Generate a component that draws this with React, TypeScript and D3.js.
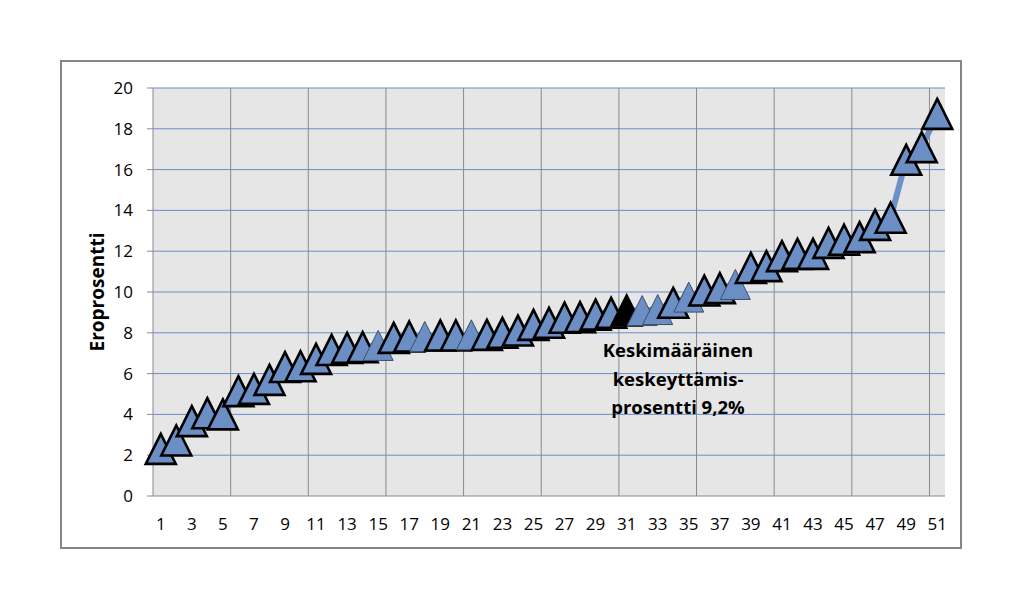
import React from "react";
import * as d3 from "d3";

const categories: number[] = d3.range(1, 52);
const values: number[] = [
  2.31, 2.72, 3.67, 4.06, 4.0, 5.14, 5.25, 5.69, 6.32, 6.36,
  6.72, 7.16, 7.26, 7.3, 7.38, 7.75, 7.82, 7.82, 7.87, 7.87,
  7.9, 7.9, 8.0, 8.11, 8.39, 8.49, 8.74, 8.77, 8.89, 8.98,
  9.09, 9.09, 9.14, 9.47, 9.75, 10.07, 10.19, 10.37, 11.18, 11.27,
  11.76, 11.87, 11.87, 12.41, 12.56, 12.69, 13.29, 13.64, 16.48, 17.1,
  18.73,
];
const thinOutline: number[] = [15, 18, 21, 32, 33, 35, 38];
const highlighted: number[] = [31];
const yTicks: number[] = [0, 2, 4, 6, 8, 10, 12, 14, 16, 18, 20];
const xLabels: number[] = categories.filter((c) => c % 2 === 1);
const gridEvery = 5;
const yTitle = "Eroprosentti";
const noteLines: string[] = ["Keskimääräinen", "keskeyttämis-", "prosentti 9,2%"];

const W = 1021;
const H = 610;
const plot = { left: 153, right: 945, top: 88, bottom: 496 };
const FONT = "'Open Sans', 'Noto Sans', sans-serif";

export default function App() {
  const x = d3
    .scaleBand<number>()
    .domain(categories)
    .range([plot.left, plot.right])
    .padding(0);
  const bw = x.bandwidth();
  const cx = (c: number) => (x(c) as number) + bw / 2;
  const y = d3.scaleLinear().domain([0, 20]).range([plot.bottom, plot.top]);

  const pts = categories.map((c, i) => ({ c, v: values[i] }));
  const line = d3
    .line<{ c: number; v: number }>()
    .x((d) => cx(d.c))
    .y((d) => y(d.v));

  const tri = (px: number, py: number) => {
    const h = 15;
    return `M${px},${py - h}L${px + h},${py + h}L${px - h},${py + h}Z`;
  };

  const vGrid: number[] = [];
  for (let i = gridEvery; i < categories.length; i += gridEvery) {
    vGrid.push(plot.left + i * bw);
  }

  return (
    <svg
      width={W}
      height={H}
      style={{ position: "absolute", left: 0, top: 0, background: "#fff" }}
      fontFamily={FONT}
    >
      <rect x={61} y={61} width={900} height={487} fill="#fff" stroke="#868686" strokeWidth={2} />
      <rect
        x={plot.left}
        y={plot.top}
        width={plot.right - plot.left}
        height={plot.bottom - plot.top}
        fill="#E6E6E6"
      />
      {vGrid.map((gx) => (
        <line key={"v" + gx} x1={gx} x2={gx} y1={plot.top} y2={plot.bottom} stroke="#8A8A8A" strokeWidth={1} />
      ))}
      {yTicks.map((t) =>
        t === 0 ? null : (
          <line key={"h" + t} x1={plot.left} x2={plot.right} y1={y(t)} y2={y(t)} stroke="#6A8EC6" strokeWidth={1} />
        )
      )}
      <line x1={plot.left} x2={plot.left} y1={plot.top} y2={plot.bottom} stroke="#8A8A8A" strokeWidth={1} />
      <line x1={plot.left} x2={plot.right} y1={plot.bottom} y2={plot.bottom} stroke="#8A8A8A" strokeWidth={1} />
      {yTicks.map((t) => (
        <g key={"yt" + t}>
          <line x1={plot.left - 6} x2={plot.left} y1={y(t)} y2={y(t)} stroke="#8A8A8A" strokeWidth={1} />
          <text x={133} y={y(t) + 6} textAnchor="end" fontSize={17} fill="#000">
            {t}
          </text>
        </g>
      ))}
      {xLabels.map((c) => (
        <text key={"xl" + c} x={cx(c)} y={530} textAnchor="middle" fontSize={17} fill="#000">
          {c}
        </text>
      ))}
      <text
        transform={`translate(104, ${(plot.top + plot.bottom) / 2}) rotate(-90)`}
        textAnchor="middle"
        fontSize={19}
        fontWeight="bold"
        fill="#000"
      >
        {yTitle}
      </text>

      <path d={line(pts) || ""} fill="none" stroke="#6D90C6" strokeWidth={6} />
      {pts.map((p) => {
        const isHi = highlighted.includes(p.c);
        const isThin = thinOutline.includes(p.c);
        return (
          <path
            key={"m" + p.c}
            d={tri(cx(p.c), y(p.v))}
            fill={isHi ? "#000" : "#6B8FC4"}
            stroke={isThin ? "#3C4E6A" : "#000"}
            strokeWidth={isThin ? 1 : 2.6}
            strokeLinejoin="miter"
          />
        );
      })}

      {noteLines.map((s, i) => (
        <text
          key={"n" + i}
          x={678}
          y={357 + i * 28.5}
          textAnchor="middle"
          fontSize={18.5}
          fontWeight="bold"
          fill="#000"
        >
          {s}
        </text>
      ))}
    </svg>
  );
}
